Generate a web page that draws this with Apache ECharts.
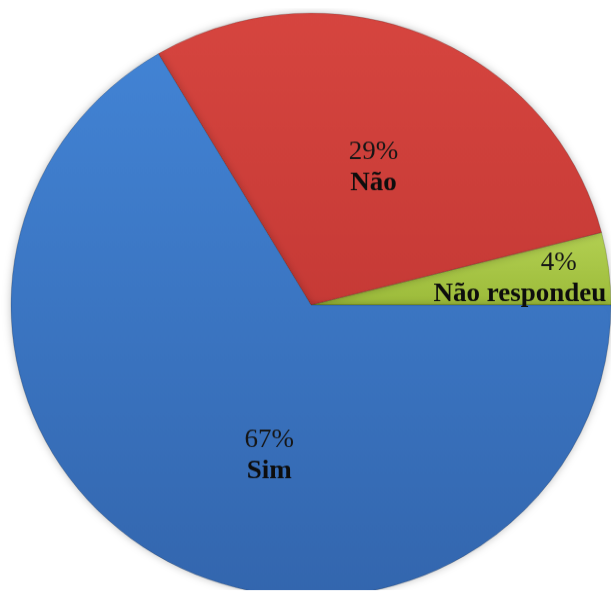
<!DOCTYPE html>
<html><head><meta charset="utf-8">
<script src="https://cdn.jsdelivr.net/npm/echarts@6/dist/echarts.min.js"></script>
<style>html,body{margin:0;padding:0;background:#fff;overflow:hidden}#c{width:611px;height:598px;transform:scaleY(0.973);transform-origin:0 305px}</style>
</head><body><div id="c"></div>
<script>
var categories = ['Não respondeu', 'Não', 'Sim'];
var values = [4, 29.5, 66.5];
var percentLabels = ['4%', '29%', '67%'];

var colorTop = ['#b3d052', '#d6453f', '#4283d4'];
var colorBottom = ['#9cbb3a', '#c63a36', '#3366ae'];
var labelOffsets = [[57, -8], [4, 0], [34, 22]];
var pctPad = [[0, 0, 0, 78], [0, 0, 0, 0], [0, 0, 0, 0]];

var chart = echarts.init(document.getElementById('c'), null, {renderer: 'canvas'});
var data = categories.map(function (name, i) {
  return {
    name: name,
    value: values[i],
    itemStyle: {
      color: new echarts.graphic.LinearGradient(0, 0, 0, 1, [
        {offset: 0, color: colorTop[i]},
        {offset: 1, color: colorBottom[i]}
      ])
    },
    label: {
      offset: labelOffsets[i],
      formatter: '{p|' + percentLabels[i] + '}\n{n|' + name + '}',
      rich: {
        p: {fontFamily: 'Liberation Serif', fontSize: 27, color: '#161616', lineHeight: 32, padding: pctPad[i]},
        n: {fontFamily: 'Liberation Serif', fontSize: 27, fontWeight: 'bold', color: '#0d0d0d', lineHeight: 32}
      }
    }
  };
});

chart.setOption({
  animation: false,
  series: [{
    type: 'pie',
    center: [311, 305],
    radius: [0, 300],
    startAngle: 0,
    clockwise: false,
    avoidLabelOverlap: false,
    itemStyle: {
      borderColor: 'rgba(0,0,0,0.18)',
      borderWidth: 1,
      shadowBlur: 8,
      shadowColor: 'rgba(0,0,0,0.25)'
    },
    label: {
      show: true,
      position: 'inside',
      align: 'center'
    },
    labelLine: {show: false},
    emphasis: {disabled: true},
    data: data
  }]
});
</script>
</body></html>
